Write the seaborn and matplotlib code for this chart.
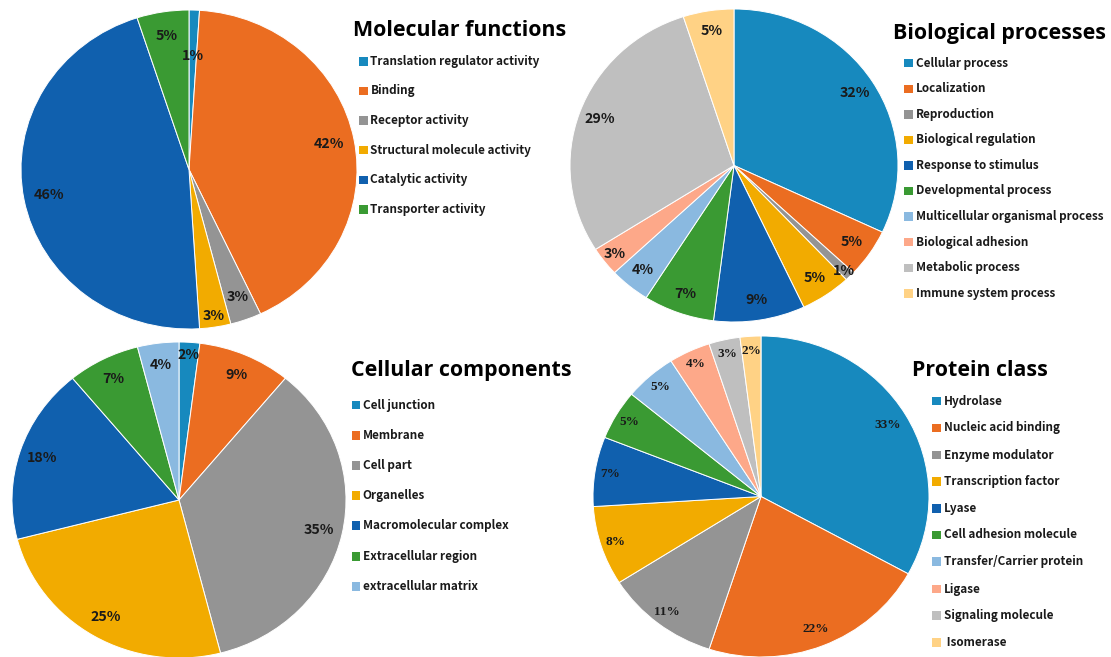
import matplotlib
matplotlib.use("Agg")
import matplotlib.pyplot as plt
from matplotlib.patches import Rectangle
import seaborn as sns
import numpy as np

# ---------------- data ----------------
mf_title = "Molecular functions"
mf_labels = ["Translation regulator activity", "Binding", "Receptor activity",
             "Structural molecule activity", "Catalytic activity", "Transporter activity"]
mf_values = [1, 42, 3, 3, 46, 5]

bp_title = "Biological processes"
bp_labels = ["Cellular process", "Localization", "Reproduction", "Biological regulation",
             "Response to stimulus", "Developmental process", "Multicellular organismal process",
             "Biological adhesion", "Metabolic process", "Immune system process"]
bp_values = [32, 5, 1, 5, 9, 7, 4, 3, 29, 5]

cc_title = "Cellular components"
cc_labels = ["Cell junction", "Membrane", "Cell part", "Organelles",
             "Macromolecular complex", "Extracellular region", "extracellular matrix"]
cc_values = [2, 9, 35, 25, 18, 7, 4]

pc_title = "Protein class"
pc_labels = ["Hydrolase", "Nucleic acid binding", "Enzyme modulator", "Transcription factor",
             "Lyase", "Cell adhesion molecule", "Transfer/Carrier protein", "Ligase",
             "Signaling molecule", " Isomerase"]
pc_values = [33, 22, 11, 8, 7, 5, 5, 4, 3, 2]

palette = ['#1789BE', '#EB6D21', '#949494', '#F2AB00', '#1060AE',
           '#3A9A33', '#8AB9E0', '#FDA889', '#BFBFBF', '#FFD285']

# ---------------- style ----------------
sns.set_theme(style="white")
sns.set_palette(palette)
SANS = ['Noto Sans CJK KR', 'DejaVu Sans']
TITLE = ['Open Sans', 'DejaVu Sans']
SERIF = ['Liberation Serif', 'DejaVu Serif']
plt.rcParams['font.family'] = SANS

W, H = 1111, 657
fig = plt.figure(figsize=(W / 100, H / 100), dpi=100)
fig.patch.set_facecolor('white')
renderer = fig.canvas.get_renderer()


def fit_size(text, target_px, family, weight='bold', base=12.0):
    t = fig.text(0, 0, text, fontsize=base, fontweight=weight, family=family)
    w = t.get_window_extent(renderer).width
    t.remove()
    return base * target_px / w


title_fs = fit_size("Molecular", 106.6, TITLE)
legend_fs = fit_size("Translation", 67.0, SANS)
label_fs = fit_size("42%", 30.5, SANS)
serif_fs = fit_size("33%", 26.5, SERIF)


def px_axes(cx, cy, rx, ry):
    return fig.add_axes([(cx - rx) / W, 1 - (cy + ry) / H, 2 * rx / W, 2 * ry / H])


def draw_pie(values, geom, dist, overrides, serif=False):
    cx, cy, rx, ry = geom
    ax = px_axes(cx, cy, rx, ry)
    wedges, _ = ax.pie(values, colors=palette[:len(values)], startangle=90,
                       counterclock=False, radius=1.0,
                       wedgeprops=dict(edgecolor='white', linewidth=0.7))
    ax.set_aspect('auto')
    ax.set_xlim(-1, 1)
    ax.set_ylim(-1, 1)
    ax.axis('off')
    for i, (w, v) in enumerate(zip(wedges, values)):
        mid = np.deg2rad((w.theta1 + w.theta2) / 2)
        d = overrides.get(i, dist)
        if serif:
            ax.text(d * np.cos(mid), d * np.sin(mid), f"{v}%", ha='center', va='center',
                    fontsize=serif_fs, fontweight='bold', family=SERIF,
                    color='#1a1a1a')
        else:
            ax.text(d * np.cos(mid), d * np.sin(mid), f"{v}%", ha='center', va='center',
                    fontsize=label_fs, fontweight='bold', family=SANS, color='#1a1a1a')
    return ax


def draw_legend(title, labels, title_xy, x_sq, x_txt, rows):
    fig.text(title_xy[0] / W, 1 - title_xy[1] / H, title, fontsize=title_fs,
             fontweight='bold', va='baseline', ha='left', color='black', family=TITLE)
    sq = 8.5
    for i, (lab, y) in enumerate(zip(labels, rows)):
        fig.add_artist(Rectangle((x_sq / W, 1 - (y + sq / 2) / H), sq / W, sq / H,
                                 transform=fig.transFigure, facecolor=palette[i],
                                 edgecolor='none'))
        fig.text(x_txt / W, 1 - y / H, lab, fontsize=legend_fs, fontweight='bold',
                 va='center', ha='left', color='#1a1a1a', family=SANS)


# pies
draw_pie(mf_values, (189, 169.5, 168, 159.5), 0.85, {0: 0.71, 3: 0.93})
draw_pie(bp_values, (734, 165.5, 164, 156.5), 0.87, {2: 0.95, 7: 0.92})
draw_pie(cc_values, (179, 500, 167, 158), 0.86, {0: 0.92})
draw_pie(pc_values, (761, 496.5, 168, 160.5), 0.91, {0: 0.875, 1: 0.89}, serif=True)

# legends
draw_legend(mf_title, mf_labels, (352.7, 36), 359, 370.5,
            [61.7, 90.9, 120.7, 150.2, 180, 209.3])
draw_legend(bp_title, bp_labels, (893, 39.3), 904, 915.6,
            [63, 88.8, 114.4, 140, 165.4, 191, 216.7, 242.2, 267.8, 293.3])
draw_legend(cc_title, cc_labels, (350.7, 376), 351.5, 362.6,
            [405, 435.3, 465.7, 495.7, 525.7, 556.3, 586.7])
draw_legend(pc_title, pc_labels, (912, 376), 932, 944,
            [401, 427.8, 455, 481.7, 508.3, 535, 561.7, 589, 615.7, 642.3])

fig.savefig("out.png", dpi=100, facecolor='white')
